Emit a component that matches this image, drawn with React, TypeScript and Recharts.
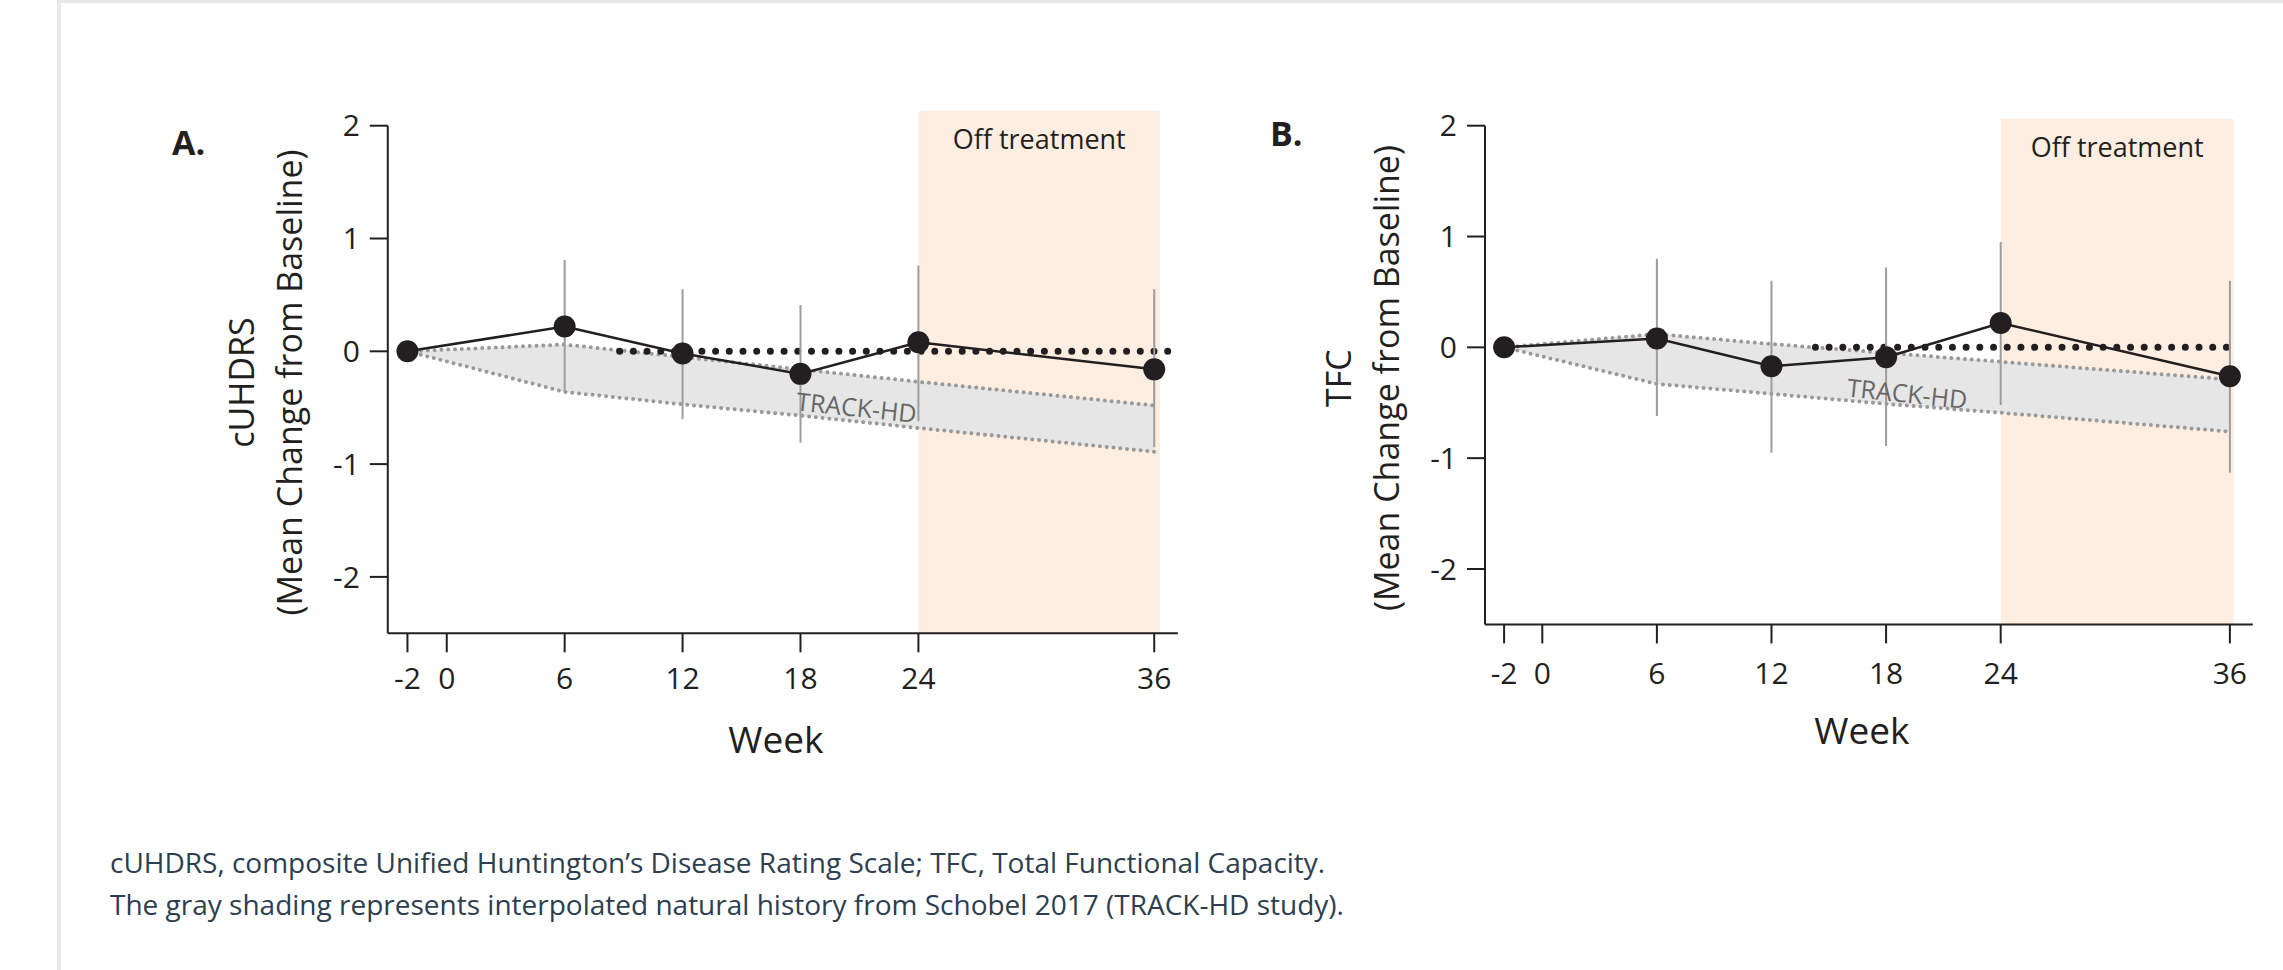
import {
  ComposedChart,
  XAxis,
  YAxis,
  Area,
  Line,
  ErrorBar,
  ReferenceArea,
  ReferenceLine,
  ReferenceDot,
  Label,
} from 'recharts';

const FONT = '"Open Sans", sans-serif';
const INK = '#231f20';

// weeks at which visits were measured
const weeks = [-2, 6, 12, 18, 24, 36];
const weekTicks = [-2, 0, 6, 12, 18, 24, 36];
const valueTicks = [-2, -1, 0, 1, 2];

// A. cUHDRS
const cuhdrsMean = [0, 0.22, -0.02, -0.2, 0.08, -0.16];
const cuhdrsUpper = [0, 0.81, 0.55, 0.41, 0.76, 0.55];
const cuhdrsLower = [0, -0.36, -0.6, -0.81, -0.62, -0.85];
const cuhdrsTrackHi = [0, 0.06, -0.05, -0.16, -0.27, -0.48];
const cuhdrsTrackLo = [0, -0.36, -0.47, -0.57, -0.68, -0.89];

// B. TFC
const tfcMean = [0, 0.08, -0.17, -0.09, 0.22, -0.26];
const tfcUpper = [0, 0.8, 0.6, 0.72, 0.95, 0.6];
const tfcLower = [0, -0.62, -0.95, -0.89, -0.52, -1.13];
const tfcTrackHi = [0, 0.12, 0.03, -0.05, -0.13, -0.29];
const tfcTrackLo = [0, -0.33, -0.42, -0.51, -0.59, -0.76];

// off-treatment window and the dotted no-change line (weeks)
const offTreatmentA = [24, 36.3];
const offTreatmentB = [24, 36.2];
const zeroLineA = [8.8, 36.9];
const zeroLineB = [14.3, 36.5];

function buildRows(mean: number[], upper: number[], lower: number[], hi: number[], lo: number[]) {
  return weeks.map((week, i) => ({
    week,
    mean: mean[i],
    err: [mean[i] - lower[i], upper[i] - mean[i]],
    track: [lo[i], hi[i]],
  }));
}

const rowsA = buildRows(cuhdrsMean, cuhdrsUpper, cuhdrsLower, cuhdrsTrackHi, cuhdrsTrackLo);
const rowsB = buildRows(tfcMean, tfcUpper, tfcLower, tfcTrackHi, tfcTrackLo);

function YTitle({ viewBox, title }: any) {
  const ax = viewBox.x + viewBox.width;
  const cy = viewBox.y + viewBox.height / 2 + 3;
  const lines = [title, '(Mean Change from Baseline)'];
  return (
    <g>
      {lines.map((t, i) => {
        const x = ax - (i === 0 ? 147 : 99);
        return (
          <text
            key={t}
            x={x}
            y={cy}
            transform={`rotate(-90 ${x} ${cy})`}
            textAnchor="middle"
            dominantBaseline="central"
            fontFamily={FONT}
            fontSize={34}
            fill={INK}
          >
            {t}
          </text>
        );
      })}
    </g>
  );
}

function WeekTitle({ viewBox }: any) {
  return (
    <text
      x={viewBox.x + viewBox.width / 2 - 7}
      y={viewBox.y + 120}
      textAnchor="middle"
      fontFamily={FONT}
      fontSize={37}
      fill={INK}
    >
      Week
    </text>
  );
}

interface PanelProps {
  rows: ReturnType<typeof buildRows>;
  title: string;
  width: number;
  height: number;
  margin: { top: number; right: number; bottom: number; left: number };
  offWindow: number[];
  offTop: number;
  zeroLine: number[];
  trackLabel: { x: number; y: number };
  tickGap: number;
}

function Panel({ rows, title, width, height, margin, offWindow, offTop, zeroLine, trackLabel, tickGap }: PanelProps) {
  return (
    <ComposedChart width={width} height={height} data={rows} margin={margin}>
      <XAxis
        dataKey="week"
        type="number"
        domain={[-3, 37.2]}
        ticks={weekTicks}
        height={130}
        tickSize={19}
        tickMargin={tickGap}
        tick={{ fill: INK, fontSize: 30, fontFamily: FONT }}
        axisLine={{ stroke: INK, strokeWidth: 2 }}
        tickLine={{ stroke: INK, strokeWidth: 2 }}
      >
        <Label content={(p: any) => <WeekTitle {...p} />} />
      </XAxis>
      <YAxis
        type="number"
        domain={[-2.5, 2]}
        ticks={valueTicks}
        width={80}
        tickSize={18}
        tickMargin={10}
        tick={{ fill: INK, fontSize: 30, fontFamily: FONT }}
        axisLine={{ stroke: INK, strokeWidth: 2 }}
        tickLine={{ stroke: INK, strokeWidth: 2 }}
      >
        <Label content={(p: any) => <YTitle {...p} title={title} />} />
      </YAxis>
      <ReferenceArea
        x1={offWindow[0]}
        x2={offWindow[1]}
        y1={-2.5}
        y2={offTop}
        ifOverflow="visible"
        fill="#fdeee1"
        fillOpacity={1}
        stroke="none"
        label={{ value: 'Off treatment', position: 'insideTop', offset: 19, fill: INK, fontSize: 27, fontFamily: FONT }}
      />
      <Area
        dataKey="track"
        type="linear"
        fill="#e6e6e6"
        fillOpacity={1}
        stroke="#999999"
        strokeWidth={4}
        strokeDasharray="0 6.8"
        strokeLinecap="round"
        dot={false}
        activeDot={false}
        isAnimationActive={false}
      />
      <ReferenceDot
        x={trackLabel.x}
        y={trackLabel.y}
        r={0}
        fill="none"
        stroke="none"
        label={{ value: 'TRACK-HD', position: 'center', angle: 6, fill: '#666666', fontSize: 25, fontFamily: FONT }}
      />
      <ReferenceLine
        segment={[
          { x: zeroLine[0], y: 0 },
          { x: zeroLine[1], y: 0 },
        ]}
        stroke={INK}
        strokeWidth={7}
        strokeDasharray="0 13.7"
        strokeLinecap="round"
      />
      <Line
        dataKey="mean"
        type="linear"
        stroke={INK}
        strokeWidth={2.5}
        dot={{ r: 11, fill: INK, stroke: 'none' }}
        activeDot={false}
        isAnimationActive={false}
      >
        <ErrorBar dataKey="err" direction="y" width={0} stroke="#9d9d9d" strokeWidth={2} />
      </Line>
    </ComposedChart>
  );
}

export default function App() {
  return (
    <div style={{ position: 'absolute', left: 0, top: 0, width: 2283, height: 970, background: '#fff', overflow: 'hidden' }}>
      <div
        style={{
          position: 'absolute',
          left: 57,
          top: 0,
          right: -10,
          bottom: -10,
          borderLeft: '4px solid #e8e8e8',
          borderTop: '3px solid #e8e8e8',
        }}
      />
      <div style={{ position: 'absolute', left: 0, top: 0 }}>
        <Panel
          rows={rowsA}
          title="cUHDRS"
          width={1240}
          height={800}
          margin={{ top: 125.7, right: 62.2, bottom: 36.7, left: 307.8 }}
          offWindow={offTreatmentA}
          offTop={2.13}
          zeroLine={zeroLineA}
          trackLabel={{ x: 20.85, y: -0.5 }}
          tickGap={15}
        />
      </div>
      <div style={{ position: 'absolute', left: 1240, top: 0 }}>
        <Panel
          rows={rowsB}
          title="TFC"
          width={1043}
          height={800}
          margin={{ top: 125.7, right: 30.2, bottom: 45.6, left: 165 }}
          offWindow={offTreatmentB}
          offTop={2.06}
          zeroLine={zeroLineB}
          trackLabel={{ x: 19.1, y: -0.42 }}
          tickGap={19}
        />
      </div>
      <svg width={2283} height={970} style={{ position: 'absolute', left: 0, top: 0, pointerEvents: 'none' }}>
        <text x={172} y={155} fontFamily={FONT} fontWeight={700} fontSize={34} fill={INK}>
          A.
        </text>
        <text x={1270} y={146} fontFamily={FONT} fontWeight={700} fontSize={34} fill={INK}>
          B.
        </text>
        <text x={110} y={873} fontFamily={FONT} fontSize={28} fill="#2c3e50">
          cUHDRS, composite Unified Huntington’s Disease Rating Scale; TFC, Total Functional Capacity.
        </text>
        <text x={110} y={915} fontFamily={FONT} fontSize={28} fill="#2c3e50">
          The gray shading represents interpolated natural history from Schobel 2017 (TRACK-HD study).
        </text>
      </svg>
    </div>
  );
}
